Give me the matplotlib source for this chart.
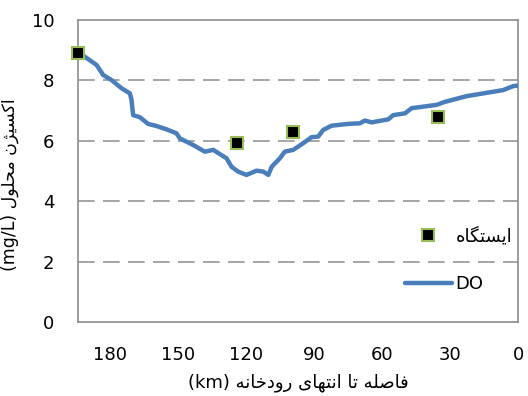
import matplotlib
matplotlib.use('Agg')
import matplotlib.pyplot as plt

# DO profile along the river (distance to river end, km)
do_km = [194, 193.2, 185.8, 182.9, 179.2, 174.8, 171.1, 170.4, 169.7, 166.7, 163.1, 159.4,
         155.0, 150.6, 149.1, 143.2, 138.1, 134.4, 128.5, 126.3, 123.4, 119.7, 115.3, 112.3,
         110.1, 108.6, 105.0, 102.8, 99.1, 94.7, 91.0, 88.1, 85.9, 82.2, 74.9, 69.7, 67.5,
         64.5, 57.2, 55.0, 49.8, 46.9, 35.9, 32.2, 22.6, 15.3, 6.5, 2.1, 0]
do_val = [8.92, 8.90, 8.51, 8.18, 8.01, 7.74, 7.57, 7.35, 6.85, 6.78, 6.56, 6.49,
          6.38, 6.25, 6.08, 5.86, 5.64, 5.70, 5.42, 5.14, 4.98, 4.87, 5.01, 4.98,
          4.87, 5.14, 5.42, 5.64, 5.70, 5.92, 6.12, 6.14, 6.36, 6.50, 6.56, 6.58, 6.67,
          6.61, 6.71, 6.85, 6.91, 7.08, 7.19, 7.29, 7.48, 7.57, 7.68, 7.81, 7.83]

# measuring stations
st_km = [194, 124.1, 99.1, 35.1]
st_val = [8.92, 5.94, 6.30, 6.80]

x_ticks = [180, 150, 120, 90, 60, 30, 0]
y_ticks = [0, 2, 4, 6, 8, 10]

# presentation forms: isolated, final, initial, medial
FORMS = {
    'ا': ('\ufe8d', '\ufe8e', None, None),
    'د': ('\ufea9', '\ufeaa', None, None),
    'ر': ('\ufead', '\ufeae', None, None),
    'و': ('\ufeed', '\ufeee', None, None),
    'ژ': ('\ufb8a', '\ufb8b', None, None),
    'ی': ('\ufbfc', '\ufbfd', '\ufbfe', '\ufbff'),
    'س': ('\ufeb1', '\ufeb2', '\ufeb3', '\ufeb4'),
    'ت': ('\ufe95', '\ufe96', '\ufe97', '\ufe98'),
    'گ': ('\ufb92', '\ufb93', '\ufb94', '\ufb95'),
    'ک': ('\ufb8e', '\ufb8f', '\ufb90', '\ufb91'),
    'ه': ('\ufee9', '\ufeea', '\ufeeb', '\ufeec'),
    'ف': ('\ufed1', '\ufed2', '\ufed3', '\ufed4'),
    'ص': ('\ufeb9', '\ufeba', '\ufebb', '\ufebc'),
    'ل': ('\ufedd', '\ufede', '\ufedf', '\ufee0'),
    'ن': ('\ufee5', '\ufee6', '\ufee7', '\ufee8'),
    'خ': ('\ufea5', '\ufea6', '\ufea7', '\ufea8'),
    'م': ('\ufee1', '\ufee2', '\ufee3', '\ufee4'),
    'ح': ('\ufea1', '\ufea2', '\ufea3', '\ufea4'),
}


def fa(text):
    # shape persian letters and put them in visual order
    out = []
    for i, c in enumerate(text):
        if c not in FORMS:
            out.append(c)
            continue
        prev = text[i - 1] if i > 0 else ''
        nxt = text[i + 1] if i + 1 < len(text) else ''
        join_prev = prev in FORMS and FORMS[prev][2] is not None
        join_next = FORMS[c][2] is not None and nxt in FORMS
        if join_prev and join_next:
            out.append(FORMS[c][3])
        elif join_prev:
            out.append(FORMS[c][1])
        elif join_next:
            out.append(FORMS[c][2])
        else:
            out.append(FORMS[c][0])
    return ''.join(reversed(out))


plt.rcParams['font.family'] = ['DejaVu Sans']

fig = plt.figure(figsize=(5.28, 3.96), dpi=100)
ax = fig.add_axes([78 / 528, 74 / 396, 440 / 528, 302 / 396])

ax.plot(do_km, do_val, color='#4a7ebb', lw=3.2, solid_capstyle='round', label='DO', zorder=3)
ax.plot(st_km, st_val, ls='none', marker='s', ms=8, mfc='black', mec='#9bbb59', mew=1.5,
        label=fa('ایستگاه'), clip_on=False, zorder=4)

ax.set_xlim(194, 0)
ax.set_ylim(0, 10)
ax.set_xticks(x_ticks)
ax.set_yticks(y_ticks)
for y in y_ticks[1:-1]:
    ax.axhline(y, color='#969696', lw=1.2, ls=(0, (10, 5)), zorder=1)

for s in ax.spines.values():
    s.set_color('#8c8c8c')
    s.set_linewidth(1.2)
ax.tick_params(length=0, labelsize=13)
ax.tick_params(axis='x', pad=17)
ax.tick_params(axis='y', pad=17)

ax.set_xlabel('(km) ' + fa('فاصله تا انتهای رودخانه'), fontsize=13)
ax.xaxis.set_label_coords(0.5, -0.17)
ax.set_ylabel('(mg/L) ' + fa('اکسیژن محلول'), fontsize=12.5)
ax.yaxis.set_label_coords(-0.135, 0.455)

handles, labels = ax.get_legend_handles_labels()
ax.legend(handles[::-1], labels[::-1], loc='upper left', bbox_to_anchor=(0.722, 0.345),
          frameon=False, fontsize=13, handlelength=2.6, handletextpad=0.2,
          labelspacing=1.65, borderpad=0)

fig.savefig('out.png', dpi=100)
